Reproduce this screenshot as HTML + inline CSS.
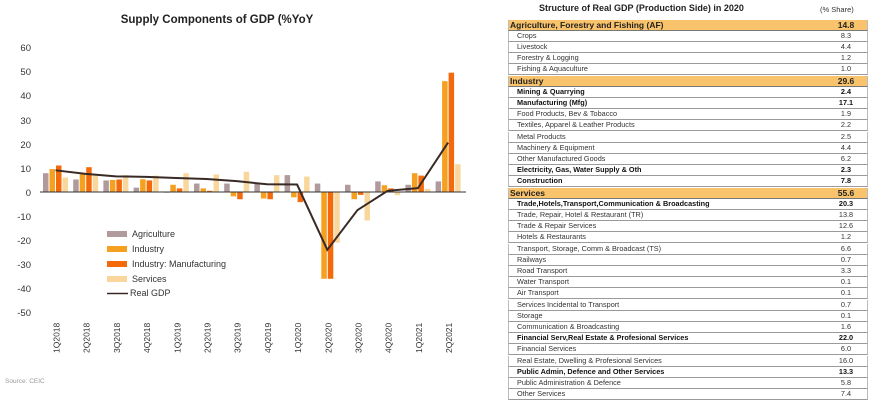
<!DOCTYPE html>
<html><head><meta charset="utf-8"><style>
body{margin:0;width:870px;height:401px;background:#fff;font-family:"Liberation Sans",sans-serif;position:relative;overflow:hidden}
.r{position:absolute;left:508px;width:360px;height:11.2px;border-bottom:1px solid #9a9a9a;border-left:1px solid #bbb;border-right:1px solid #bbb;box-sizing:border-box;font-size:7.3px;line-height:10.5px;color:#333}
.r span{position:absolute;left:8px}
.r b{position:absolute;left:317px;width:40px;text-align:center;font-weight:normal}
.r.h{background:#f8c36a;font-size:8.5px;font-weight:bold;color:#222;border-bottom:1px solid #777}
.r.h span{left:1px}
.r.h b{font-weight:bold}
.r.bd{font-weight:bold;color:#111}
.r.bd b{font-weight:bold}
</style></head><body>
<svg width="500" height="401" style="position:absolute;left:0;top:0" font-family="Liberation Sans, sans-serif">
<text x="217" y="23" font-size="11.5" font-weight="bold" text-anchor="middle" fill="#222">Supply Components of GDP (%YoY</text>
<g font-size="9.5" fill="#333" text-anchor="end">
<text x="31" y="51">60</text><text x="31" y="75">50</text><text x="31" y="99">40</text><text x="31" y="124">30</text><text x="31" y="148">20</text><text x="31" y="172">10</text><text x="31" y="196">0</text><text x="31" y="220">-10</text><text x="31" y="244">-20</text><text x="31" y="268">-30</text><text x="31" y="292">-40</text><text x="31" y="316">-50</text>
</g>
<g id="bars"></g>
<line x1="40" y1="192" x2="466" y2="192" stroke="#333" stroke-width="1"/>
<polyline id="gdp" fill="none" stroke="#3a2a26" stroke-width="2"/>
<g id="xl" font-size="8.5" fill="#333"></g>
<g font-size="9" fill="#333">
<rect x="107" y="231" width="20" height="6" fill="#b09a9b"/><text x="132" y="237">Agriculture</text>
<rect x="107" y="246" width="20" height="6" fill="#f5a01e"/><text x="132" y="252">Industry</text>
<rect x="107" y="261" width="20" height="6" fill="#f46a0a"/><text x="132" y="267">Industry: Manufacturing</text>
<rect x="107" y="276" width="20" height="6" fill="#f9d79c"/><text x="132" y="282">Services</text>
<line x1="107" y1="293.5" x2="128" y2="293.5" stroke="#3a2a26" stroke-width="1.5"/><text x="130" y="296">Real GDP</text>
</g>
<text x="5" y="383" font-size="6.5" fill="#999">Source: CEIC</text>
</svg>
<div style="position:absolute;left:539px;top:3px;font-size:9px;font-weight:bold;color:#222">Structure of Real GDP (Production Side) in 2020</div>
<div style="position:absolute;left:820px;top:5px;font-size:7.5px;color:#333">(% Share)</div>
<div id="tbl"></div>
<script>
var ag=[7.8,5.2,4.8,1.8,-0.3,3.5,3.5,3.5,7,3.5,3,4.4,3,4.4],
ind=[9.5,7.4,5,5.3,3,1.5,-1.8,-2.7,-2.2,-36,-3,2.8,7.8,46],
mfg=[11,10.3,5.2,4.8,1.5,0.5,-3,-3,-4.2,-36,-1.2,1.5,6.8,49.5],
sv=[6,6.8,7,6.8,7.8,7.3,8.4,7,6.4,-21,-11.8,-1.3,1.3,11.5],
gdp=[9,7.5,6.5,6.3,5.8,5.4,4.5,3.2,3.1,-24,-7.5,0.5,1.6,20.5],
labs=["1Q2018","2Q2018","3Q2018","4Q2018","1Q2019","2Q2019","3Q2019","4Q2019","1Q2020","2Q2020","3Q2020","4Q2020","1Q2021","2Q2021"];
var Y=v=>192-v*2.41,h="",pts=[],xl="";
var ser=[[ag,"#b09a9b",0.5],[ind,"#f5a01e",7],[mfg,"#f46a0a",13.5],[sv,"#f9d79c",20]];
for(var i=0;i<14;i++){var b=42.5+30.2*i;
ser.forEach(s=>{var v=s[0][i],y=Math.min(Y(v),192),hh=Math.abs(v*2.41);h+='<rect x="'+(b+s[2])+'" y="'+y+'" width="5.5" height="'+hh+'" fill="'+s[1]+'"/>';});
pts.push((b+13)+","+Y(gdp[i]));
var cx=b+14;xl+='<text transform="translate('+(cx+3)+',353) rotate(-90)">'+labs[i]+'</text>';}
document.getElementById("bars").innerHTML=h;
document.getElementById("gdp").setAttribute("points",pts.join(" "));
document.getElementById("xl").innerHTML=xl;
var rows=[["h","Agriculture, Forestry and Fishing (AF)","14.8"],["","Crops","8.3"],["","Livestock","4.4"],["","Forestry & Logging","1.2"],["","Fishing & Aquaculture","1.0"],
["h","Industry","29.6"],["bd","Mining & Quarrying","2.4"],["bd","Manufacturing (Mfg)","17.1"],["","Food Products, Bev & Tobacco","1.9"],["","Textiles, Apparel & Leather Products","2.2"],["","Metal Products","2.5"],["","Machinery & Equipment","4.4"],["","Other Manufactured Goods","6.2"],["bd","Electricity, Gas, Water Supply & Oth","2.3"],["bd","Construction","7.8"],
["h","Services","55.6"],["bd","Trade,Hotels,Transport,Communication & Broadcasting","20.3"],["","Trade, Repair, Hotel & Restaurant (TR)","13.8"],["","Trade & Repair Services","12.6"],["","Hotels & Restaurants","1.2"],["","Transport, Storage, Comm & Broadcast (TS)","6.6"],["","Railways","0.7"],["","Road Transport","3.3"],["","Water Transport","0.1"],["","Air Transport","0.1"],["","Services Incidental to Transport","0.7"],["","Storage","0.1"],["","Communication & Broadcasting","1.6"],["bd","Financial Serv,Real Estate & Profesional Services","22.0"],["","Financial Services","6.0"],["","Real Estate, Dwelling & Profesional Services","16.0"],["bd","Public Admin, Defence and Other Services","13.3"],["","Public Administration & Defence","5.8"],["","Other Services","7.4"]];
var t="";rows.forEach((r,i)=>{t+='<div class="r '+r[0]+'" style="top:'+(19.5+i*11.2)+'px"><span>'+r[1].replace(/&/g,"&amp;")+'</span><b>'+r[2]+'</b></div>';});
document.getElementById("tbl").innerHTML=t;
</script>
</body></html>
